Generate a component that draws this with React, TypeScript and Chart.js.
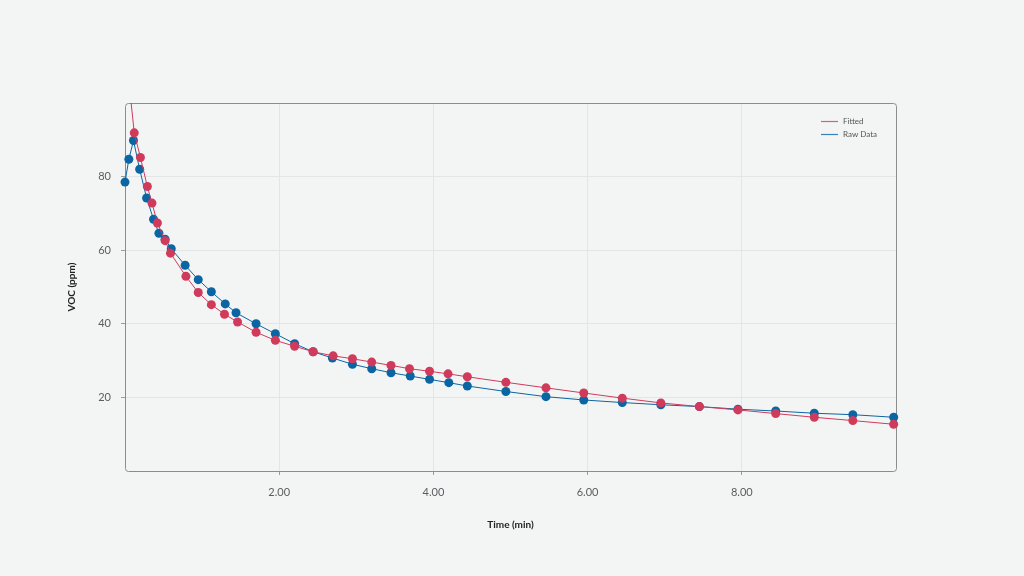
import * as React from 'react';
import { useEffect, useRef } from 'react';
import { Chart, registerables } from 'chart.js';

Chart.register(...registerables);

// Time (min) / VOC (ppm)
const fittedTime = [0, 0.12, 0.2, 0.29, 0.35, 0.42, 0.52, 0.59, 0.79, 0.95, 1.12, 1.29, 1.46, 1.7, 1.95, 2.2, 2.44, 2.7, 2.95, 3.2, 3.45, 3.69, 3.95, 4.19, 4.44, 4.94, 5.46, 5.95, 6.45, 6.95, 7.45, 7.95, 8.44, 8.94, 9.44, 9.97];
const fittedVoc = [116, 91.9, 85.2, 77.3, 72.8, 67.4, 62.6, 59.2, 52.9, 48.5, 45.2, 42.6, 40.5, 37.7, 35.5, 33.9, 32.4, 31.3, 30.5, 29.6, 28.7, 27.8, 27.1, 26.4, 25.6, 24.1, 22.6, 21.2, 19.8, 18.5, 17.5, 16.6, 15.6, 14.6, 13.7, 12.7];

const rawTime = [0, 0.05, 0.11, 0.19, 0.28, 0.37, 0.44, 0.52, 0.6, 0.78, 0.95, 1.12, 1.3, 1.44, 1.7, 1.95, 2.2, 2.44, 2.69, 2.95, 3.2, 3.45, 3.7, 3.95, 4.2, 4.44, 4.94, 5.46, 5.95, 6.45, 6.95, 7.45, 7.95, 8.44, 8.94, 9.44, 9.97];
const rawVoc = [78.5, 84.7, 89.8, 82.0, 74.2, 68.4, 64.6, 63.0, 60.4, 55.9, 52.0, 48.7, 45.4, 43.0, 40.0, 37.3, 34.6, 32.4, 30.7, 29.0, 27.8, 26.7, 25.8, 24.9, 24.0, 23.1, 21.6, 20.2, 19.3, 18.6, 18.0, 17.5, 16.8, 16.3, 15.7, 15.3, 14.6];

const xTicks = [2, 4, 6, 8];
const yTicks = [20, 40, 60, 80];

const seriesNames = ['Fitted', 'Raw Data'];
const seriesColors = ['#d03a5b', '#0b65a3'];

const FONT = 'Lato, "Open Sans", sans-serif';

// rounded frame round the plot area
const framePlugin = {
  id: 'frame',
  beforeDatasetsDraw(chart: any) {
    const { ctx, chartArea: a } = chart;
    ctx.save();
    ctx.strokeStyle = '#8a8d8e';
    ctx.lineWidth = 1;
    ctx.beginPath();
    ctx.roundRect(a.left + 0.5, a.top + 0.5, a.right - a.left, a.bottom - a.top, 3);
    ctx.stroke();
    ctx.restore();
  },
};

// small legend inside the top-right of the plot
const insideLegend = {
  id: 'insideLegend',
  afterDraw(chart: any) {
    const { ctx, chartArea: a } = chart;
    ctx.save();
    ctx.font = `8px ${FONT}`;
    ctx.textBaseline = 'middle';
    seriesNames.forEach((name, i) => {
      const y = Math.round(a.top + 18 + i * 12.5);
      const x = a.right - 75;
      ctx.strokeStyle = seriesColors[i];
      ctx.globalAlpha = 0.8;
      ctx.lineWidth = 1.2;
      ctx.beginPath();
      ctx.moveTo(x, y + 0.5);
      ctx.lineTo(x + 17, y + 0.5);
      ctx.stroke();
      ctx.globalAlpha = 1;
      ctx.fillStyle = '#555';
      ctx.fillText(name, x + 22, y);
    });
    ctx.restore();
  },
};

const toPoints = (xs: number[], ys: number[]) => xs.map((x, i) => ({ x, y: ys[i] }));

export default function App() {
  const canvasRef = useRef<HTMLCanvasElement>(null);

  useEffect(() => {
    const ctx = canvasRef.current;
    if (!ctx) return;

    const chart = new Chart(ctx, {
      type: 'scatter',
      data: {
        datasets: [
          {
            label: seriesNames[0],
            data: toPoints(fittedTime, fittedVoc),
            showLine: true,
            borderColor: seriesColors[0],
            backgroundColor: seriesColors[0],
            borderWidth: 1,
            pointRadius: 4.5,
            pointBorderWidth: 0,
            clip: { left: 6, top: 0, right: 6, bottom: 6 },
          },
          {
            label: seriesNames[1],
            data: toPoints(rawTime, rawVoc),
            showLine: true,
            borderColor: seriesColors[1],
            backgroundColor: seriesColors[1],
            borderWidth: 1,
            pointRadius: 4.5,
            pointBorderWidth: 0,
            clip: { left: 6, top: 0, right: 6, bottom: 6 },
          },
        ],
      },
      options: {
        responsive: false,
        animation: false,
        layout: { padding: { left: 62, right: 128, top: 103, bottom: 0 } },
        plugins: {
          legend: { display: false },
          tooltip: { enabled: false },
        },
        scales: {
          x: {
            type: 'linear',
            min: 0,
            max: 10,
            afterBuildTicks: (s: any) => { s.ticks = xTicks.map((v) => ({ value: v })); },
            afterFit: (s: any) => { s.height = 105; },
            border: { display: false },
            grid: { color: '#e3e6e6', tickColor: '#9a9d9e', tickLength: 4 },
            ticks: {
              padding: 11,
              color: '#5a5d5f',
              font: { family: FONT, size: 11 },
              callback: (v: any) => Number(v).toFixed(2),
            },
            title: {
              display: true,
              text: 'Time (min)',
              color: '#222',
              font: { family: FONT, size: 10, weight: 'bold' },
              padding: { top: 0, bottom: 45 },
            },
          },
          y: {
            min: 0,
            max: 100,
            afterBuildTicks: (s: any) => { s.ticks = yTicks.map((v) => ({ value: v })); },
            afterFit: (s: any) => { s.width = 63; },
            border: { display: false },
            grid: { color: '#e3e6e6', tickColor: '#9a9d9e', tickLength: 4 },
            ticks: {
              padding: 10,
              color: '#5a5d5f',
              font: { family: FONT, size: 11 },
            },
            title: {
              display: true,
              text: 'VOC (ppm)',
              color: '#222',
              font: { family: FONT, size: 10, weight: 'bold' },
              padding: { top: 4, bottom: 0 },
            },
          },
        },
      },
      plugins: [framePlugin, insideLegend],
    });

    return () => chart.destroy();
  }, []);

  return (
    <div style={{ position: 'fixed', inset: 0, background: '#f3f5f5' }}>
      <canvas ref={canvasRef} width={1024} height={576} style={{ width: 1024, height: 576, display: 'block' }} />
    </div>
  );
}
